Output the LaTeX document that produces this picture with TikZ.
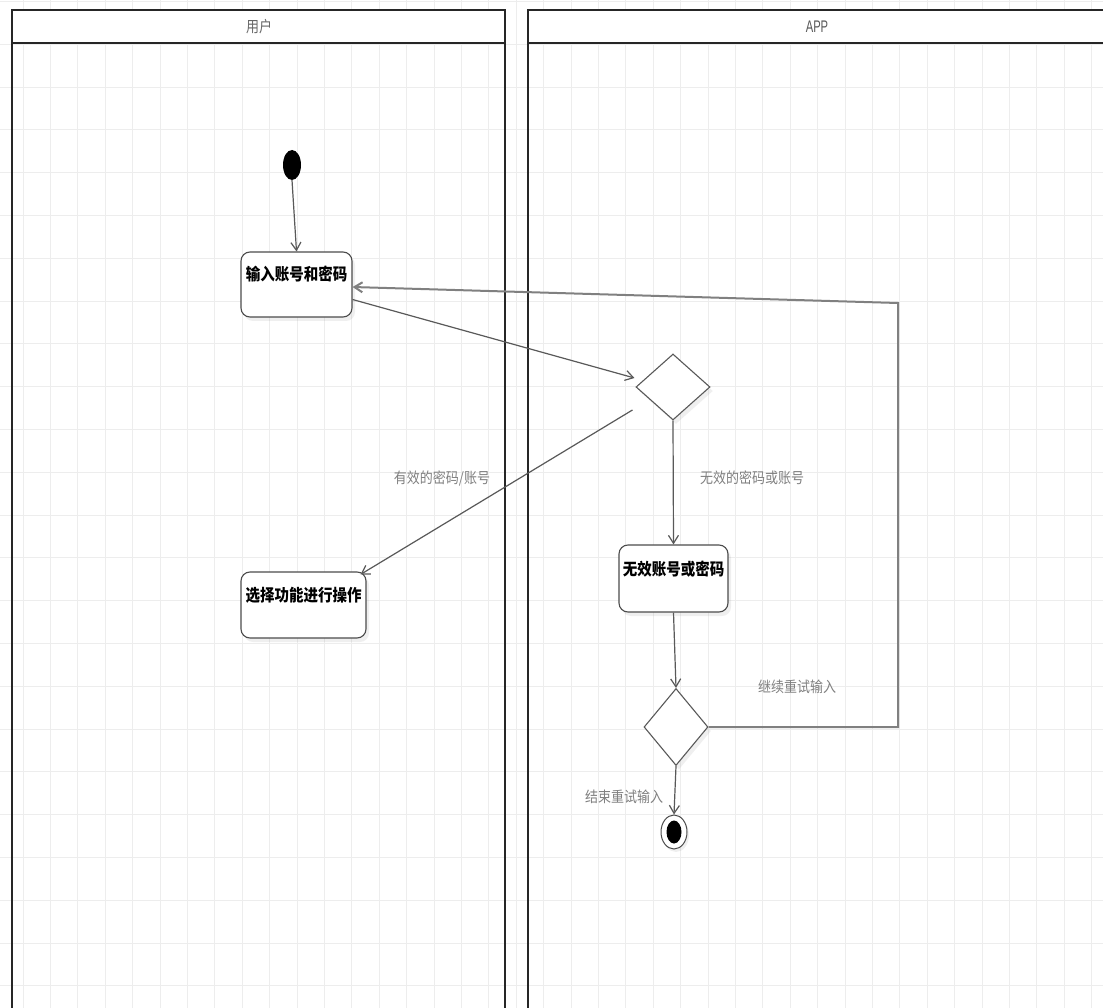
\documentclass[tikz,border=0pt]{standalone}
\usepackage{fontspec}
\usepackage{graphicx}
\newfontfamily\cjk{Noto Sans CJK SC}
\newfontfamily\appfont{Liberation Sans}
\usetikzlibrary{shapes.geometric,arrows.meta,calc,shadows}
\begin{document}
\begin{tikzpicture}[x=1pt,y=-1pt,
  gridline/.style={draw=black!7, line width=0.9pt},
  lane/.style={draw=black!85, line width=2.2pt},
  hdr/.style={text=black!60, inner sep=0pt, font=\cjk\fontsize{13}{15}\selectfont},
  act/.style={draw=black!70, line width=1.1pt, rounded corners=9pt, fill=white,
    text height=12pt, text depth=19pt, inner sep=3pt,
    font=\cjk\bfseries\fontsize{14.5}{16}\selectfont,
    drop shadow={shadow xshift=3pt, shadow yshift=-4pt, opacity=0.12}},
  dec/.style={diamond, draw=black!65, line width=1.1pt, fill=white, inner sep=0pt,
    drop shadow={shadow xshift=3pt, shadow yshift=-4pt, opacity=0.12}},
  flow/.style={draw=black!65, line width=1.2pt, -{Straight Barb[length=8pt,width=10pt]}},
  loopflow/.style={draw=black!50, line width=2pt, -{Straight Barb[length=8pt,width=10pt]}},
  lbl/.style={text=black!50, inner sep=0pt, font=\cjk\fontsize{13}{15}\selectfont},
]
\useasboundingbox (0,0) rectangle (1103,1008);
\begin{scope}
\clip (0,0) rectangle (1103,1008);
\fill[white] (0,0) rectangle (1103,1008);
% grid
\foreach \i in {0,...,41} \draw[gridline] ({23+27.4*(\i-1)},0) -- ({23+27.4*(\i-1)},1008);
\foreach \j in {0,...,24} \draw[gridline] (0,{1.4+42.8*\j}) -- (1103,{1.4+42.8*\j});

% lanes
\draw[lane, fill=white] (12,10) rectangle (505,43);
\draw[lane] (12,43) -- (12,1020);
\draw[lane] (505,43) -- (505,1020);
\draw[lane, fill=white] (528,10) rectangle (1115,43);
\draw[lane] (528,43) -- (528,1020);
\node[hdr] (user) at (259,27) {\scalebox{1}[1.2]{用户}};
\node[hdr, text=black!65, font=\appfont\fontsize{14}{16}\selectfont] (app) at (817,27) {\scalebox{0.8}[1.2]{APP}};
\end{scope}

% nodes
\node[ellipse, fill=black, minimum width=18pt, minimum height=30pt, inner sep=0pt] (start) at (292,165) {};
\node[act, minimum width=111pt, minimum height=65pt] (b1) at (296.5,284.5) {\scalebox{1}[1.15]{输入账号和密码}};
\node[act, minimum width=125pt, minimum height=66pt] (b2) at (303.5,605) {\scalebox{1}[1.15]{选择功能进行操作}};
\node[act, minimum width=109pt, minimum height=67pt] (b3) at (673.5,578.5) {\scalebox{1}[1.15]{无效账号或密码}};
\node[dec, minimum width=74pt, minimum height=66pt] (d1) at (673,387) {};
\node[dec, minimum width=64pt, minimum height=77pt] (d2) at (676,727) {};
\node[ellipse, draw=black!70, line width=1pt, fill=white, minimum width=26pt, minimum height=34pt, inner sep=0pt,
  drop shadow={shadow xshift=2pt, shadow yshift=-3pt, opacity=0.12}] (end) at (674,832) {};
\node[ellipse, fill=black, minimum width=15pt, minimum height=23pt, inner sep=0pt] (endin) at (end) {};

\coordinate (c1) at (898,727);
\coordinate (c2) at (898,303);

% connectors
\draw[flow] (start.south) -- (b1.north);
\draw[flow] ($(b1.east)+(0,15)$) -- ($(d1.west)+(-1,-9)$);
\draw[flow] ($(d1.west)+(-3,23)$) -- ($(b2.north east)+(-6,3)$);
\draw[flow] (d1.south) -- (b3.north);
\draw[flow] (b3.south) -- (d2.north);
\draw[flow] (d2.south) -- (end.north);
\draw[loopflow] (d2.east) -- (c1) -- (c2) -- ($(b1.east)+(0,2.5)$);

% labels
\node[lbl] (l1) at (442,478) {\scalebox{1}[1.15]{有效的密码/账号}};
\node[lbl] (l2) at (752,478) {\scalebox{1}[1.15]{无效的密码或账号}};
\node[lbl] (l3) at (797,687) {\scalebox{1}[1.15]{继续重试输入}};
\node[lbl] (l4) at (624,797) {\scalebox{1}[1.15]{结束重试输入}};
\end{tikzpicture}
\end{document}
